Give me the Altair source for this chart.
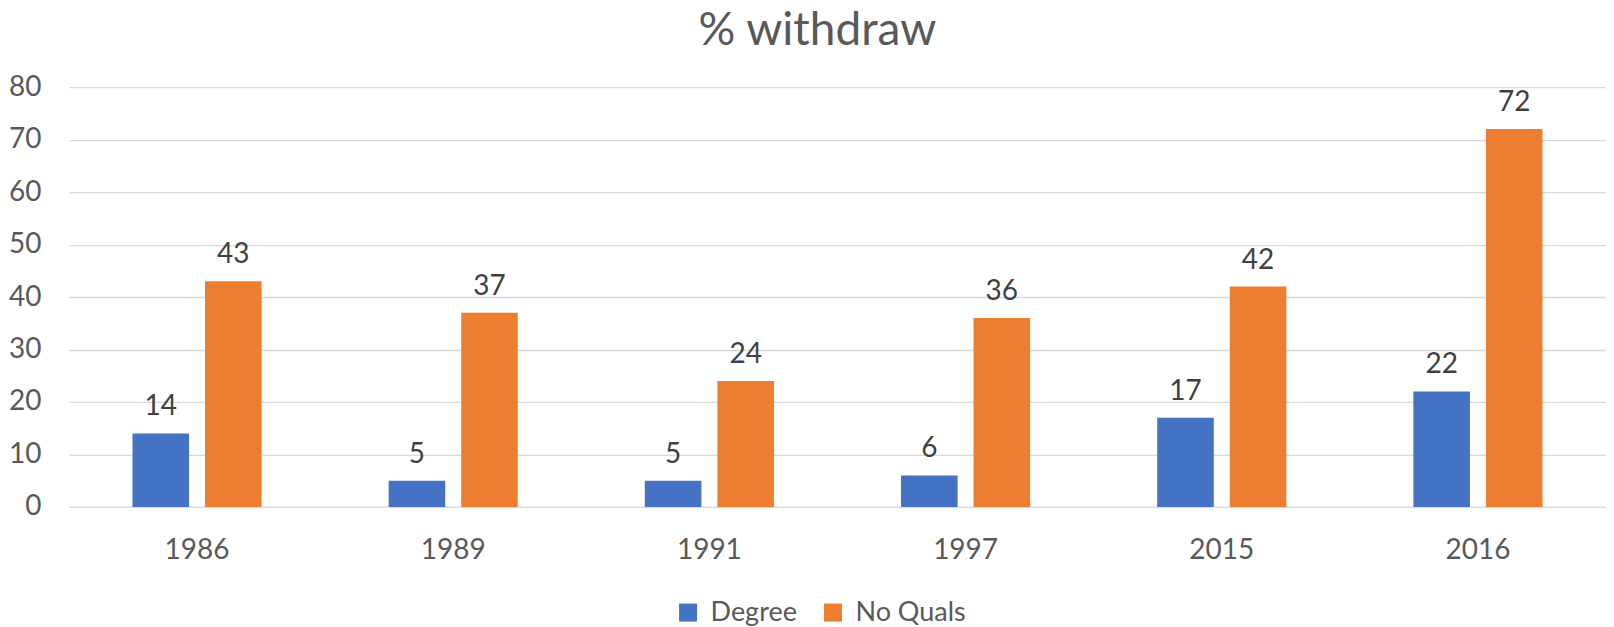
import altair as alt
import pandas as pd

years = ["1986", "1989", "1991", "1997", "2015", "2016"]
degree = [14, 5, 5, 6, 17, 22]
no_quals = [43, 37, 24, 36, 42, 72]
series = ["Degree", "No Quals"]
colors = ["#4472C4", "#ED7D31"]
y_ticks = [0, 10, 20, 30, 40, 50, 60, 70, 80]

rows = []
for i, yr in enumerate(years):
    rows.append({"year": yr, "series": series[0], "value": degree[i]})
    rows.append({"year": yr, "series": series[1], "value": no_quals[i]})
df = pd.DataFrame(rows)

FONT = "Lato"
GRAY = "#595959"

x_enc = alt.X("year:N", sort=years, title=None,
              scale=alt.Scale(paddingInner=0.496, paddingOuter=0.248),
              axis=alt.Axis(labelAngle=0, labelFontSize=28, labelColor=GRAY, labelFont=FONT,
                            labelPadding=30, ticks=False, domain=True, domainColor="#D9D9D9",
                            domainWidth=1.3, grid=False))
xoff = alt.XOffset("series:N", sort=series, scale=alt.Scale(paddingInner=0.22, paddingOuter=0))
y_enc = alt.Y("value:Q", title=None,
              scale=alt.Scale(domain=[0, 80], nice=False),
              axis=alt.Axis(values=y_ticks, labelFontSize=28, labelColor=GRAY, labelFont=FONT,
                            labelPadding=28, ticks=False, domain=False, gridColor="#D9D9D9",
                            gridWidth=1.3, minExtent=60, maxExtent=60))

bars = alt.Chart(df).mark_bar().encode(
    x=x_enc,
    xOffset=xoff,
    y=y_enc,
    color=alt.Color("series:N", sort=series,
                    scale=alt.Scale(domain=series, range=colors),
                    legend=alt.Legend(title=None, orient="none", legendX=606, legendY=512,
                                      direction="horizontal", symbolType="square",
                                      symbolSize=324, symbolStrokeWidth=0, symbolOpacity=1,
                                      labelFontSize=27, labelFont=FONT, labelColor=GRAY,
                                      labelOffset=9, columnPadding=22)),
)

labels = alt.Chart(df).mark_text(font=FONT, fontSize=28, color="#404040",
                                 baseline="alphabetic", dy=-18).encode(
    x=alt.X("year:N", sort=years),
    xOffset=xoff,
    y=alt.Y("value:Q"),
    text=alt.Text("value:Q"),
)

chart = alt.layer(bars, labels).properties(
    width=1538,
    height=420,
    padding={"left": 0, "top": 0, "right": 0, "bottom": 0},
    title=alt.TitleParams("% withdraw", fontSize=46, font=FONT, color=GRAY,
                          fontWeight="normal", anchor="middle", dx=-20, offset=-18,
                          baseline="alphabetic"),
).configure_view(stroke=None)

chart.save("out.html", embed_options={"renderer": "svg", "actions": False})
